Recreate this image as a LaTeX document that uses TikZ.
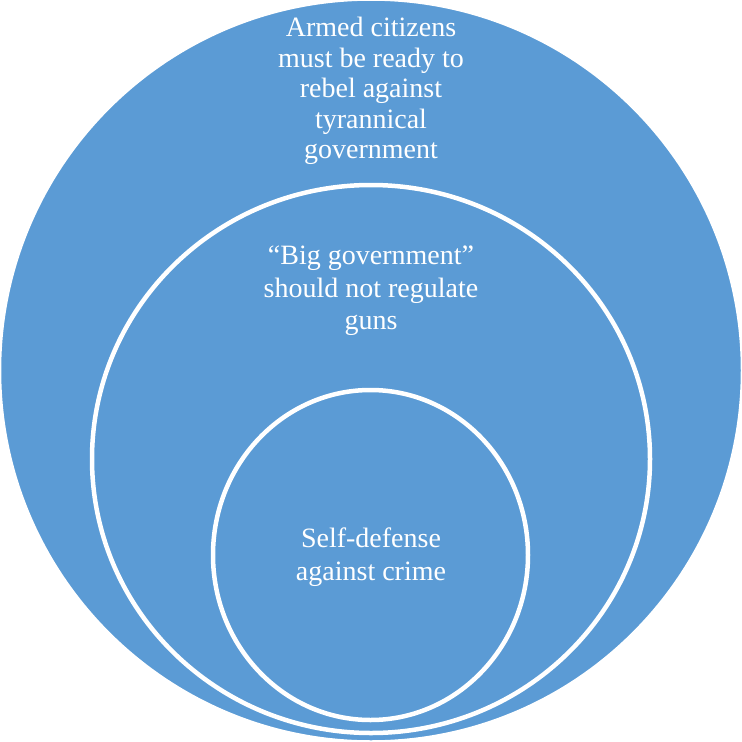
\documentclass[tikz,border=0pt]{standalone}
\usepackage{fontspec}
\setmainfont{Liberation Serif}
\usetikzlibrary{shapes.geometric}
\definecolor{ringblue}{HTML}{5B9BD5}

\tikzset{
  ring/.style={ellipse,fill=ringblue,draw=white,line width=4.5pt,inner sep=0pt},
  ringlabel/.style={text=white,align=center,font=\fontsize{28}{30.5}\selectfont}
}

\begin{document}
\begin{tikzpicture}[x=1pt,y=-1pt]
\useasboundingbox (0,0) rectangle (742,742);
\node[ring,minimum width=744,minimum height=744] (outer) at (371,370.5) {};
\node[ring,minimum width=558,minimum height=548] (middle) at (371,459) {};
\node[ring,minimum width=315,minimum height=330] (inner) at (370.5,555) {};

\node[ringlabel] (armed) at (371,91) {Armed citizens\\must be ready to\\rebel against\\tyrannical\\government};
\node[ringlabel,font=\fontsize{28}{32.5}\selectfont] (biggov) at (371,291) {``Big government''\\should not regulate\\guns};
\node[ringlabel,font=\fontsize{28}{33}\selectfont] (self) at (371,557.5) {Self-defense\\against crime};
\end{tikzpicture}
\end{document}
